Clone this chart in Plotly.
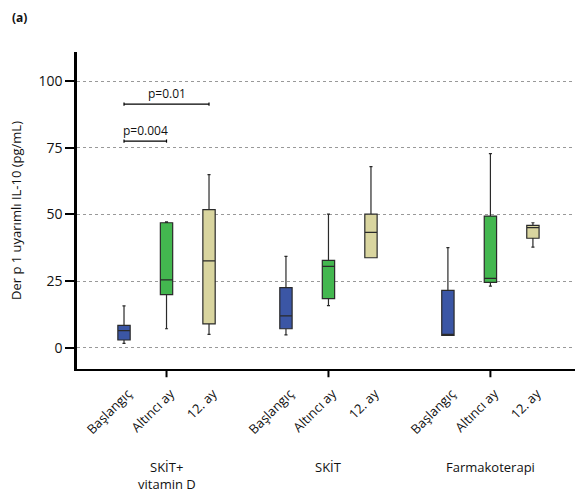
import plotly.graph_objects as go

groups = ["SKİT+<br>vitamin D", "SKİT", "Farmakoterapi"]
timepoints = ["Başlangıç", "Altıncı ay", "12. ay"]
colors = ["#3B56A5", "#43B74F", "#D9D59F"]

# per group, per timepoint: [lowerfence, q1, median, q3, upperfence]
stats = [
    [[1.7, 3.0, 6.5, 8.5, 15.8], [7.2, 20.0, 25.5, 46.9, 47.2], [5.1, 9.0, 32.6, 51.8, 64.9]],
    [[4.9, 7.2, 12.0, 22.6, 34.3], [15.9, 18.5, 30.6, 32.8, 50.1], [33.8, 33.8, 43.3, 50.1, 67.9]],
    [[4.7, 4.7, 4.9, 21.6, 37.6], [23.2, 24.6, 26.1, 49.4, 72.8], [37.8, 41.1, 45.1, 45.9, 46.9]],
]
group_offset = 3.81

sig_pairs = [  # (from timepoint, to timepoint, y level, label) in group 1
    (0, 1, 77.5, "p=0.004"),
    (0, 2, 91.3, "p=0.01"),
]

fig = go.Figure()
tickvals, ticktext = [], []
for gi, g in enumerate(groups):
    for ti, t in enumerate(timepoints):
        pos = gi * group_offset + ti
        lf, q1, med, q3, uf = stats[gi][ti]
        fig.add_trace(go.Box(
            x=[pos], q1=[q1], median=[med], q3=[q3], lowerfence=[lf], upperfence=[uf],
            width=0.29, whiskerwidth=0.25, fillcolor=colors[ti],
            line=dict(color="#2a2a2a", width=1.2), showlegend=False, hoverinfo="skip",
        ))
        tickvals.append(pos)
        ticktext.append(t)

shapes = []
annotations = []
for gi, g in enumerate(groups):
    mid = gi * group_offset + 1
    shapes.append(dict(type="line", xref="x", yref="paper", x0=mid, x1=mid, y0=0, y1=-0.026,
                       line=dict(color="black", width=2)))
    for li, line in enumerate(g.split("<br>")):
        annotations.append(dict(x=mid, xref="x", y=-(467 - 369 + li * 17) / 317, yref="paper",
                                text=line, showarrow=False, yanchor="middle",
                                font=dict(size=13, color="#111")))

for a, b, yv, lab in sig_pairs:
    shapes.append(dict(type="line", xref="x", yref="y", x0=a, x1=b, y0=yv, y1=yv,
                       line=dict(color="black", width=1.2)))
    for xv in (a, b):
        shapes.append(dict(type="line", xref="x", yref="y", x0=xv, x1=xv, y0=yv - 0.6, y1=yv + 0.6,
                           line=dict(color="black", width=1.2)))
    annotations.append(dict(x=(a + b) / 2, y=yv, xref="x", yref="y", text=lab, showarrow=False,
                            yanchor="bottom", yshift=0, font=dict(size=12, color="#111")))

annotations.append(dict(x=-0.135, y=(369 - 17) / 317, xref="paper", yref="paper", text="<b>(a)</b>",
                        showarrow=False, xanchor="left", yanchor="middle",
                        font=dict(size=12, color="#111")))

fig.update_layout(
    width=575, height=494,
    margin=dict(l=77, r=0, t=52, b=125),
    paper_bgcolor="white", plot_bgcolor="white",
    font=dict(family="Open Sans", size=13, color="#111"),
    shapes=shapes, annotations=annotations,
    xaxis=dict(range=[-1.106, 10.61], tickvals=tickvals, ticktext=ticktext, tickangle=-45,
               ticks="", showgrid=False, zeroline=False, showline=True,
               ticklabelstandoff=10, ticklabelshift=4,
               linecolor="black", linewidth=2, tickfont=dict(size=13)),
    yaxis=dict(range=[-7.87, 110.86], tickvals=[0, 25, 50, 75, 100], ticks="outside",
               ticklen=9, tickwidth=2, tickcolor="black", showline=True, linecolor="black",
               linewidth=2.5, showgrid=True, gridcolor="#999", griddash="dot", gridwidth=1,
               zeroline=False, tickfont=dict(size=14),
               title=dict(text="Der p 1 uyarımlı IL-10 (pg/mL)", standoff=14,
                          font=dict(size=13))),
)
fig.write_html("out.html")
